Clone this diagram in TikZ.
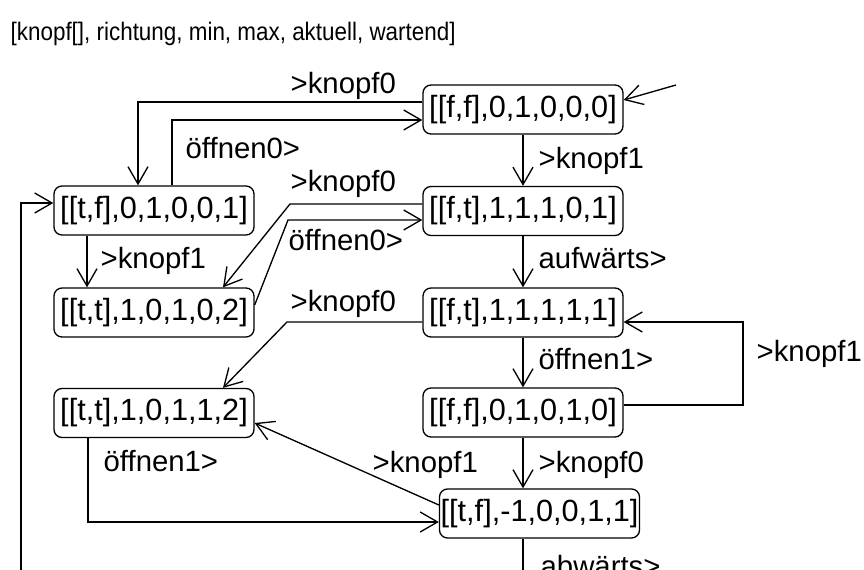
\documentclass[tikz,border=0pt]{standalone}
\usepackage{fontspec}
\setmainfont{Liberation Sans}
\usetikzlibrary{arrows.meta}
\tikzset{>={Straight Barb[length=13pt,width=15pt]}}
\tikzset{zust/.style={draw,rounded corners=6pt,minimum width=150pt,
           minimum height=36.75pt,inner sep=0pt,
           font=\fontsize{23}{26}\selectfont},
         beschr/.style={anchor=base west,inner sep=0pt,
           font=\fontsize{22}{26}\selectfont}}

\begin{document}
\begin{tikzpicture}[x=0.75pt,y=-0.75pt,line width=1pt]
\useasboundingbox (0,0) rectangle (864,570);
\node[anchor=base west,inner sep=0pt,font=\fontsize{19}{22}\selectfont]
     (titel) at (10,41) {\scalebox{0.885}[1]{[knopf[], richtung, min, max, aktuell, wartend]}};

% zustaende
\node[zust] (start) at (523,109.5) {[[f,f],0,1,0,0,0]};
\node[zust] (tf001) at (154,210.5) {[[t,f],0,1,0,0,1]};
\node[zust] (ft101) at (523,211)   {[[f,t],1,1,1,0,1]};
\node[zust] (tt102) at (154,312.5) {[[t,t],1,0,1,0,2]};
\node[zust] (ft111) at (523,312.5) {[[f,t],1,1,1,1,1]};
\node[zust] (tt112) at (154,413)   {[[t,t],1,0,1,1,2]};
\node[zust] (ff010) at (523,412.5) {[[f,f],0,1,0,1,0]};
\node[zust] (tfm1)  at (539.5,513.5) {[[t,f],-1,0,0,1,1]};

% uebergaenge
\coordinate (init) at (676,85);
\draw[->] (init) -- (start.east |- 0,100);
\draw[->] (start.west |- 0,102) -- (138,102) -- (tf001.north -| 138,0);
\draw[->] (tf001.north -| 172,0) |- (start.west |- 0,120);
\draw[->] (tf001.south -| 87,0) -- (tt102.north -| 87,0);
\draw[->] (ft101.west |- 0,204) -- (290,204) -- (tt102.north -| 223,0);
\draw[->] (tt102.east |- 0,305) -- (288,220) -- (ft101.west |- 0,220);
\draw[->] (start) -- (ft101);
\draw[->] (ft101) -- (ft111);
\draw[->] (ft111) -- (ff010);
\draw[->] (ft111.west |- 0,322) -- (287,322) -- (tt112.north -| 223,0);
\draw[->] (ff010.east |- 0,405) -| (743,322) -- (ft111.east |- 0,322);
\draw[->] (ff010.south) -- (tfm1.north -| ff010.south);
\draw[->] (tfm1.west |- 0,505) -- (tt112.east |- 0,423);
\draw[->] (tt112.south -| 88,0) |- (tfm1.west |- 0,522);
\coordinate (unten) at (523,600);
\draw (tfm1.south -| ff010.south) -- (unten);
\coordinate (links) at (21,600);
\draw[->] (links) |- (tf001.west |- 0,203);

% beschriftungen
\node[beschr] (l1)  at (290,94)  {>knopf0};
\node[beschr] (l2)  at (185,159) {öffnen0>};
\node[beschr] (l3)  at (100,269) {>knopf1};
\node[beschr] (l4)  at (290,192) {>knopf0};
\node[beschr] (l5)  at (288,251) {öffnen0>};
\node[beschr] (l6)  at (290,311) {>knopf0};
\node[beschr] (l7)  at (538,169) {>knopf1};
\node[beschr] (l8)  at (538,269) {aufwärts>};
\node[beschr] (l9)  at (538,369) {öffnen1>};
\node[beschr] (l10) at (756,362) {>knopf1};
\node[beschr] (l11) at (538,472) {>knopf0};
\node[beschr] (l12) at (372,472) {>knopf1};
\node[beschr] (l13) at (103,471) {öffnen1>};
\node[beschr] (l14) at (540,576) {abwärts>};
\end{tikzpicture}
\end{document}
